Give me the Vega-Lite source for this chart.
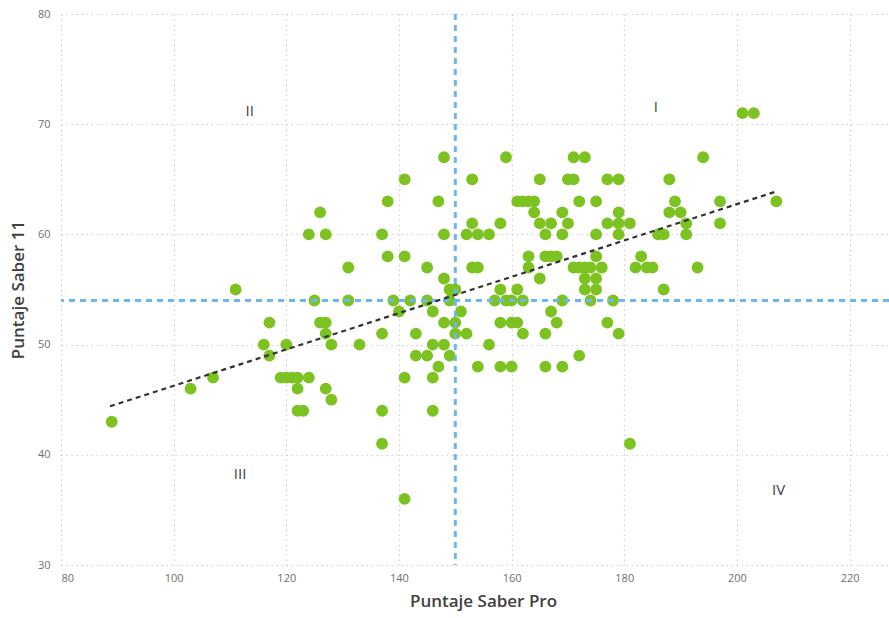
{
  "$schema": "https://vega.github.io/schema/vega-lite/v6.json",
  "width": 828,
  "height": 551,
  "autosize": {"type": "none"},
  "padding": {"left": 61, "top": 14, "right": 0, "bottom": 53},
  "background": "white",
  "config": {
    "view": {"stroke": null},
    "font": "Open Sans",
    "axis": {
      "domain": false,
      "ticks": false,
      "gridColor": "#cfcfcf",
      "gridDash": [1.5, 3.5],
      "gridWidth": 1.2,
      "labelColor": "#707070",
      "labelFontSize": 11,
      "titleColor": "#404040",
      "titleFontSize": 17,
      "titleFontWeight": 600
    }
  },
  "datasets": {
    "pts": [
      {"pro":201,"s11":71},{"pro":203,"s11":71},
      {"pro":148,"s11":67},{"pro":159,"s11":67},{"pro":171,"s11":67},{"pro":173,"s11":67},{"pro":194,"s11":67},
      {"pro":141,"s11":65},{"pro":153,"s11":65},{"pro":165,"s11":65},{"pro":170,"s11":65},{"pro":171,"s11":65},{"pro":177,"s11":65},{"pro":179,"s11":65},{"pro":188,"s11":65},
      {"pro":138,"s11":63},{"pro":147,"s11":63},{"pro":161,"s11":63},{"pro":162,"s11":63},{"pro":163,"s11":63},{"pro":164,"s11":63},{"pro":172,"s11":63},{"pro":175,"s11":63},{"pro":189,"s11":63},{"pro":197,"s11":63},{"pro":207,"s11":63},
      {"pro":126,"s11":62},{"pro":164,"s11":62},{"pro":169,"s11":62},{"pro":179,"s11":62},{"pro":188,"s11":62},{"pro":190,"s11":62},
      {"pro":153,"s11":61},{"pro":158,"s11":61},{"pro":165,"s11":61},{"pro":167,"s11":61},{"pro":170,"s11":61},{"pro":177,"s11":61},{"pro":179,"s11":61},{"pro":181,"s11":61},{"pro":191,"s11":61},{"pro":197,"s11":61},
      {"pro":124,"s11":60},{"pro":127,"s11":60},{"pro":137,"s11":60},{"pro":148,"s11":60},{"pro":152,"s11":60},{"pro":154,"s11":60},{"pro":156,"s11":60},{"pro":166,"s11":60},{"pro":169,"s11":60},{"pro":175,"s11":60},{"pro":179,"s11":60},{"pro":186,"s11":60},{"pro":187,"s11":60},{"pro":191,"s11":60},
      {"pro":138,"s11":58},{"pro":141,"s11":58},{"pro":163,"s11":58},{"pro":166,"s11":58},{"pro":167,"s11":58},{"pro":168,"s11":58},{"pro":175,"s11":58},{"pro":183,"s11":58},
      {"pro":131,"s11":57},{"pro":145,"s11":57},{"pro":153,"s11":57},{"pro":154,"s11":57},{"pro":163,"s11":57},{"pro":171,"s11":57},{"pro":172,"s11":57},{"pro":173,"s11":57},{"pro":174,"s11":57},{"pro":176,"s11":57},{"pro":182,"s11":57},{"pro":184,"s11":57},{"pro":185,"s11":57},{"pro":193,"s11":57},
      {"pro":148,"s11":56},{"pro":165,"s11":56},{"pro":173,"s11":56},{"pro":175,"s11":56},
      {"pro":111,"s11":55},{"pro":149,"s11":55},{"pro":150,"s11":55},{"pro":158,"s11":55},{"pro":161,"s11":55},{"pro":173,"s11":55},{"pro":175,"s11":55},{"pro":187,"s11":55},
      {"pro":125,"s11":54},{"pro":131,"s11":54},{"pro":139,"s11":54},{"pro":142,"s11":54},{"pro":145,"s11":54},{"pro":149,"s11":54},{"pro":157,"s11":54},{"pro":159,"s11":54},{"pro":160,"s11":54},{"pro":162,"s11":54},{"pro":169,"s11":54},{"pro":174,"s11":54},{"pro":178,"s11":54},
      {"pro":140,"s11":53},{"pro":146,"s11":53},{"pro":151,"s11":53},{"pro":167,"s11":53},
      {"pro":117,"s11":52},{"pro":126,"s11":52},{"pro":127,"s11":52},{"pro":148,"s11":52},{"pro":150,"s11":52},{"pro":158,"s11":52},{"pro":160,"s11":52},{"pro":161,"s11":52},{"pro":168,"s11":52},{"pro":177,"s11":52},
      {"pro":127,"s11":51},{"pro":137,"s11":51},{"pro":143,"s11":51},{"pro":150,"s11":51},{"pro":152,"s11":51},{"pro":162,"s11":51},{"pro":166,"s11":51},{"pro":179,"s11":51},
      {"pro":116,"s11":50},{"pro":120,"s11":50},{"pro":128,"s11":50},{"pro":133,"s11":50},{"pro":146,"s11":50},{"pro":148,"s11":50},{"pro":156,"s11":50},
      {"pro":117,"s11":49},{"pro":143,"s11":49},{"pro":145,"s11":49},{"pro":149,"s11":49},{"pro":172,"s11":49},
      {"pro":147,"s11":48},{"pro":154,"s11":48},{"pro":158,"s11":48},{"pro":160,"s11":48},{"pro":166,"s11":48},{"pro":169,"s11":48},
      {"pro":107,"s11":47},{"pro":119,"s11":47},{"pro":120,"s11":47},{"pro":121,"s11":47},{"pro":122,"s11":47},{"pro":124,"s11":47},{"pro":141,"s11":47},{"pro":146,"s11":47},
      {"pro":103,"s11":46},{"pro":122,"s11":46},{"pro":127,"s11":46},
      {"pro":128,"s11":45},
      {"pro":122,"s11":44},{"pro":123,"s11":44},{"pro":137,"s11":44},{"pro":146,"s11":44},
      {"pro":89,"s11":43},
      {"pro":137,"s11":41},{"pro":181,"s11":41},
      {"pro":141,"s11":36}
    ],
    "trend": [
      {"pro": 88.7, "s11": 44.4},
      {"pro": 206.7, "s11": 63.85}
    ],
    "quad": [
      {"pro": 113.5, "s11": 71.2, "label": "II"},
      {"pro": 185.6, "s11": 71.6, "label": "I"},
      {"pro": 111.8, "s11": 38.3, "label": "III"},
      {"pro": 207.4, "s11": 36.8, "label": "IV"}
    ]
  },
  "layer": [
    {
      "data": {"name": "pts"},
      "mark": {"type": "circle", "size": 140, "color": "#7cc322", "opacity": 1},
      "encoding": {
        "x": {
          "field": "pro", "type": "quantitative",
          "scale": {"domain": [80, 227], "nice": false, "zero": false},
          "axis": {"values": [80, 100, 120, 140, 160, 180, 200, 220], "title": "Puntaje Saber Pro", "labelPadding": 7, "titlePadding": 10, "titleX": 422, "titleAnchor": "middle"}
        },
        "y": {
          "field": "s11", "type": "quantitative",
          "scale": {"domain": [30, 80], "nice": false, "zero": false},
          "axis": {"values": [30, 40, 50, 60, 70, 80], "title": "Puntaje Saber 11", "labelPadding": 11, "titlePadding": 10}
        }
      }
    },
    {
      "data": {"values": [{"v": 150}]},
      "mark": {"type": "rule", "color": "#6db6f2", "strokeWidth": 3, "strokeDash": [6, 5]},
      "encoding": {"x": {"field": "v", "type": "quantitative"}}
    },
    {
      "data": {"values": [{"v": 54}]},
      "mark": {"type": "rule", "color": "#6db6f2", "strokeWidth": 3, "strokeDash": [6, 5]},
      "encoding": {"y": {"field": "v", "type": "quantitative"}}
    },
    {
      "data": {"name": "trend"},
      "mark": {"type": "line", "color": "#333333", "strokeWidth": 2.2, "strokeDash": [5, 4]},
      "encoding": {
        "x": {"field": "pro", "type": "quantitative"},
        "y": {"field": "s11", "type": "quantitative"}
      }
    },
    {
      "data": {"name": "quad"},
      "mark": {"type": "text", "fontSize": 15, "color": "#404040", "font": "Open Sans"},
      "encoding": {
        "x": {"field": "pro", "type": "quantitative"},
        "y": {"field": "s11", "type": "quantitative"},
        "text": {"field": "label"}
      }
    }
  ]
}
